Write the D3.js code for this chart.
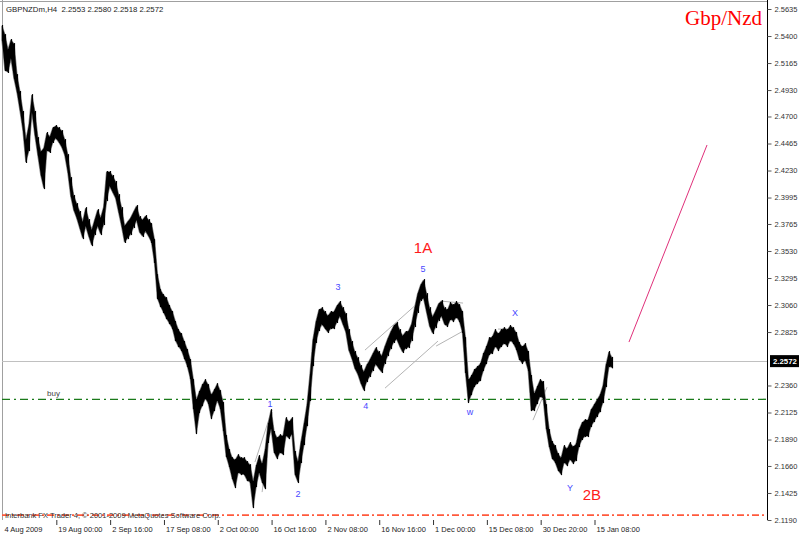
<!DOCTYPE html>
<html><head><meta charset="utf-8">
<script src="https://cdn.jsdelivr.net/npm/d3@7"></script>
<style>
html,body{margin:0;padding:0;background:#fff;}
svg{display:block;font-family:"Liberation Sans",Arial,sans-serif;}
</style></head>
<body>
<svg id="c" width="800" height="536"></svg>
<script>
// ---- data ----
const symbol = "GBPNZDm,H4";
const lastBar = ["2.2553","2.2580","2.2518","2.2572"];
const lastClose = 2.2572;
const buyLevel = 2.2240;
const stopLevel = 2.1233;
const hi = [2.5487,2.5408,2.5278,2.5365,2.5330,2.5060,2.4913,2.4739,2.4495,2.4625,
2.4886,2.4739,2.4512,2.4391,2.4425,2.4556,2.4521,2.4599,2.4617,2.4599,
2.4573,2.4495,2.4364,2.4164,2.4008,2.3938,2.3869,2.3782,2.3903,2.3799,
2.3712,2.3799,2.3886,2.3816,2.3912,2.4217,2.4217,2.4182,2.4130,2.4016,
2.3903,2.3747,2.3782,2.3816,2.3869,2.3921,2.3825,2.3799,2.3834,2.3799,
2.3764,2.3625,2.3320,2.3190,2.3146,2.3120,2.3051,2.2999,2.2912,2.2842,
2.2807,2.2738,2.2668,2.2581,2.2407,2.2233,2.2303,2.2363,2.2407,2.2363,
2.2276,2.2320,2.2372,2.2311,2.2207,2.1920,2.1798,2.1728,2.1711,2.1754,
2.1728,2.1728,2.1694,2.1667,2.1520,2.1659,2.1746,2.1676,2.1798,2.2024,
2.2146,2.1955,2.1902,2.1928,2.1920,2.2076,2.2042,2.2076,2.1781,2.1694,
2.1868,2.2024,2.2189,2.2450,2.2755,2.2912,2.3016,2.3033,2.2999,2.2964,
2.2999,2.2999,2.3051,2.3086,2.3033,2.2981,2.2842,2.2738,2.2651,2.2598,
2.2529,2.2477,2.2537,2.2581,2.2633,2.2685,2.2651,2.2616,2.2694,2.2764,
2.2825,2.2877,2.2903,2.2842,2.2790,2.2825,2.2833,2.2894,2.3033,2.3155,
2.3233,2.3277,2.3155,2.3033,2.2955,2.3007,2.3068,2.3094,2.3033,2.3016,
2.3077,2.3059,2.3086,2.3059,2.2999,2.2772,2.2407,2.2442,2.2494,2.2520,
2.2546,2.2633,2.2694,2.2772,2.2781,2.2842,2.2807,2.2842,2.2859,2.2842,
2.2877,2.2859,2.2816,2.2729,2.2694,2.2720,2.2651,2.2442,2.2285,2.2346,
2.2407,2.2390,2.2189,2.1972,2.1868,2.1833,2.1763,2.1728,2.1833,2.1807,
2.1859,2.1824,2.1850,2.1972,2.2033,2.2059,2.2059,2.2146,2.2189,2.2233,
2.2276,2.2355,2.2537,2.2651,2.2600];
const lo = [2.5365,2.5104,2.5087,2.5208,2.5034,2.4913,2.4756,2.4582,2.4304,2.4408,
2.4739,2.4538,2.4364,2.4190,2.4077,2.4408,2.4391,2.4478,2.4512,2.4478,
2.4434,2.4364,2.4217,2.4008,2.3886,2.3816,2.3729,2.3642,2.3747,2.3660,
2.3581,2.3677,2.3747,2.3677,2.3764,2.3973,2.4095,2.4043,2.3990,2.3869,
2.3747,2.3608,2.3642,2.3677,2.3738,2.3799,2.3695,2.3660,2.3703,2.3660,
2.3608,2.3434,2.3120,2.3051,2.2999,2.2946,2.2903,2.2859,2.2755,2.2703,
2.2668,2.2598,2.2529,2.2424,2.2163,2.1946,2.2129,2.2189,2.2250,2.2207,
2.2076,2.2146,2.2233,2.2163,2.1972,2.1746,2.1659,2.1554,2.1476,2.1607,
2.1589,2.1589,2.1537,2.1520,2.1302,2.1485,2.1607,2.1520,2.1467,2.1868,
2.1989,2.1781,2.1728,2.1781,2.1763,2.1928,2.1902,2.1937,2.1589,2.1520,
2.1694,2.1850,2.2015,2.2233,2.2537,2.2738,2.2842,2.2894,2.2859,2.2825,
2.2859,2.2859,2.2912,2.2964,2.2894,2.2825,2.2668,2.2598,2.2511,2.2459,
2.2381,2.2320,2.2398,2.2442,2.2494,2.2546,2.2511,2.2477,2.2555,2.2624,
2.2685,2.2738,2.2764,2.2703,2.2651,2.2685,2.2694,2.2755,2.2877,2.2999,
2.3103,2.3120,2.2999,2.2877,2.2816,2.2868,2.2929,2.2964,2.2894,2.2877,
2.2938,2.2920,2.2955,2.2920,2.2825,2.2477,2.2216,2.2285,2.2355,2.2381,
2.2407,2.2494,2.2555,2.2633,2.2642,2.2703,2.2668,2.2703,2.2729,2.2703,
2.2755,2.2729,2.2677,2.2590,2.2555,2.2581,2.2494,2.2146,2.2146,2.2207,
2.2268,2.2250,2.1989,2.1833,2.1728,2.1694,2.1624,2.1589,2.1694,2.1667,
2.1720,2.1685,2.1711,2.1833,2.1894,2.1920,2.1920,2.2007,2.2050,2.2094,
2.2137,2.2216,2.2355,2.2529,2.2518];
const yTickLabels = ["2.5635","2.5400","2.5165","2.4930","2.4700","2.4465","2.4230","2.3995","2.3765","2.3530","2.3295","2.3060","2.2825","2.2360","2.2125","2.1890","2.1660","2.1425","2.1190"];
const xTickLabels = ["4 Aug 2009","19 Aug 00:00","2 Sep 16:00","17 Sep 08:00","2 Oct 00:00","16 Oct 16:00","2 Nov 08:00","16 Nov 16:00","1 Dec 00:00","15 Dec 08:00","30 Dec 20:00","15 Jan 08:00"];
const barsPerLabel = 18;
// drawn objects: [bar0, price0, bar1, price1]
const greyLines = [
 [84.6,2.1694,90.3,2.2146],[87.0,2.1433,90.3,2.2129],
 [121.4,2.2668,139.1,2.3077],[128.1,2.2337,145.8,2.2746],
 [146.8,2.3094,154.2,2.3077],[145.2,2.2703,154.8,2.2842],
 [165.9,2.2851,171.2,2.2851],[177.6,2.2059,182.3,2.2346]
];
const targetLine = [209.7,2.2738,235.8,2.4452];
const waveLabels = [
 {t:"1",b:89.6,p:2.2198},{t:"2",b:99.0,p:2.1415},{t:"3",b:112.4,p:2.3216},
 {t:"4",b:121.7,p:2.2181},{t:"5",b:140.8,p:2.3373},{t:"w",b:156.5,p:2.2129},
 {t:"X",b:171.6,p:2.2990},{t:"Y",b:190.0,p:2.1468}
];
const bigLabels = [{t:"1A",b:140.8,p:2.3564},{t:"2B",b:197.3,p:2.1415}];
const title = "Gbp/Nzd";
const copyright = "Interbank FX Trader 4, \u00a9 2001-2009 MetaQuotes Software Corp.";

// ---- drawing ----
const svg = d3.select("#c");
const L = 2, R = 767, T = 1, B = 520;
const yTickVals = yTickLabels.map(Number);
const y = d3.scaleLinear().domain([2.1190, 2.5635]).range([520, 9]);
const x = d3.scaleLinear().domain([0, barsPerLabel*11]).range([2, 594]);

svg.append("rect").attr("width",800).attr("height",536).attr("fill","#fff");
// frame
svg.append("line").attr("x1",L+0.5).attr("x2",L+0.5).attr("y1",0).attr("y2",B).attr("stroke","#a0a0a0");
svg.append("line").attr("x1",0).attr("x2",R).attr("y1",T+0.5).attr("y2",T+0.5).attr("stroke","#a0a0a0");

// current price line
svg.append("line").attr("x1",L).attr("x2",R).attr("y1",Math.round(y(lastClose))+0.5).attr("y2",Math.round(y(lastClose))+0.5)
  .attr("stroke","#c0c0c0");

// buy line
svg.append("line").attr("x1",L).attr("x2",R).attr("y1",y(buyLevel)).attr("y2",y(buyLevel))
  .attr("stroke","#1a7a1a").attr("stroke-width",1.3).attr("stroke-dasharray","8,4,2,4");
svg.append("text").attr("x",47).attr("y",y(buyLevel)-3).attr("font-size",8).attr("fill","#444").text("buy");

// grey drawn lines
svg.append("g").selectAll("line").data(greyLines).join("line")
  .attr("x1",d=>x(d[0])).attr("y1",d=>y(d[1])).attr("x2",d=>x(d[2])).attr("y2",d=>y(d[3]))
  .attr("stroke","#b4b4b4").attr("stroke-width",1);

// price band: grey soft edge, black body, plus 1px range bars for texture
const idx = d3.range(hi.length);
const area = d3.area().x(i=>x(i)).y0(i=>y(lo[i])).y1(i=>y(hi[i]));
svg.append("path").datum(idx).attr("d",area).attr("fill","#000").attr("stroke","#8a8a8a").attr("stroke-width",1.4).attr("stroke-linejoin","bevel");
svg.append("path").datum(idx).attr("d",area).attr("fill","#000");
svg.append("g").selectAll("line").data(idx).join("line")
  .attr("x1",i=>Math.round(x(i))+0.5).attr("x2",i=>Math.round(x(i))+0.5)
  .attr("y1",i=>y(hi[i])-1).attr("y2",i=>y(lo[i])+1)
  .attr("stroke","#000").attr("stroke-width",1.2);

// target line
svg.append("line").attr("x1",x(targetLine[0])).attr("y1",y(targetLine[1])).attr("x2",x(targetLine[2])).attr("y2",y(targetLine[3]))
  .attr("stroke","#e0307a").attr("stroke-width",1);

// stop line
svg.append("line").attr("x1",L).attr("x2",R).attr("y1",y(stopLevel)).attr("y2",y(stopLevel))
  .attr("stroke","#ff5a3c").attr("stroke-width",1.8).attr("stroke-dasharray","7,3,2,3");
svg.append("text").attr("x",5).attr("y",y(stopLevel)+2.5).attr("font-size",7.5).attr("fill","#333").text(copyright);

// wave labels
svg.append("g").selectAll("text").data(waveLabels).join("text")
  .attr("x",d=>x(d.b)).attr("y",d=>y(d.p)).attr("text-anchor","middle").attr("dominant-baseline","central")
  .attr("font-size",9).attr("fill","#4848ff").text(d=>d.t);
svg.append("g").selectAll("text").data(bigLabels).join("text")
  .attr("x",d=>x(d.b)).attr("y",d=>y(d.p)).attr("text-anchor","middle").attr("dominant-baseline","central")
  .attr("font-size",15).attr("fill","#ff1a1a").text(d=>d.t);

// y axis
const yAxis = d3.axisRight(y).tickValues(yTickVals).tickFormat((d,i)=>yTickLabels[i]).tickSize(4).tickPadding(3);
const gy = svg.append("g").attr("transform",`translate(${R+0.5},0)`).call(yAxis);
gy.select(".domain").attr("d",`M0,0V${B}`).attr("stroke","#000");
gy.selectAll(".tick line").attr("stroke","#555");
gy.selectAll("text").attr("font-size",7.5).attr("fill","#333").attr("font-family","Liberation Sans, Arial, sans-serif");

// current price label
const cy = y(lastClose);
svg.append("rect").attr("x",770).attr("y",cy-6).attr("width",29).attr("height",12).attr("fill","#000");
svg.append("text").attr("x",773).attr("y",cy).attr("dominant-baseline","central").attr("font-size",7.8)
  .attr("font-weight","bold").attr("fill","#fff").text(d3.format(".4f")(lastClose));

// x axis
const xVals = xTickLabels.map((d,i)=>i*barsPerLabel);
const xAxis = d3.axisBottom(x).tickValues(xVals).tickFormat((d,i)=>xTickLabels[i]).tickSize(5).tickPadding(2);
const gx = svg.append("g").attr("transform",`translate(0,${B})`).call(xAxis);
gx.select(".domain").remove();
gx.selectAll(".tick line").attr("stroke","#333").attr("transform","translate(0.5,0)");
gx.selectAll(".tick").filter((d,i)=>i===0).select("line").remove();
gx.selectAll("text").attr("text-anchor","start").attr("dx",2).attr("font-size",7.5).attr("fill","#222").attr("font-family","Liberation Sans, Arial, sans-serif");

// header
svg.append("text").attr("x",6).attr("y",12).attr("font-size",7.8).attr("fill","#222")
  .text(symbol + "\u00a0\u00a0" + lastBar.join(" "));
// title
svg.append("text").attr("x",762).attr("y",25).attr("text-anchor","end").attr("font-size",21)
  .attr("font-family","Liberation Serif, Times New Roman, serif").attr("fill","#ff0000").text(title);
</script>
</body></html>
